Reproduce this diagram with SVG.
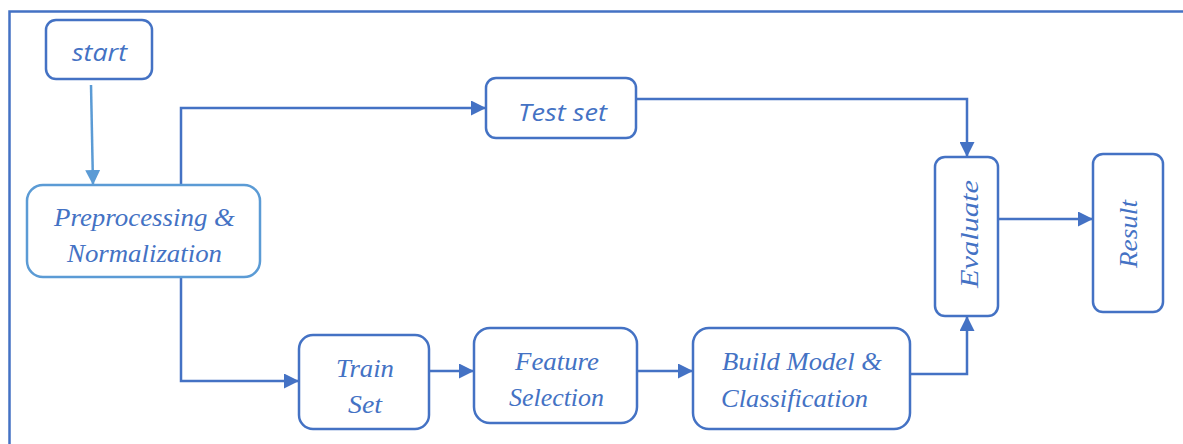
<svg xmlns="http://www.w3.org/2000/svg" width="1183" height="444" viewBox="0 0 1183 444">
<style>
.box{fill:#fff;stroke:#4472C4;stroke-width:2.5}
.lbox{fill:#fff;stroke:#5B9BD5;stroke-width:2.5}
.t{font-family:"Liberation Serif","Times New Roman",serif;font-style:italic;fill:#4472C4;font-size:25px}
.s{font-family:"Open Sans","Liberation Sans",sans-serif;font-style:italic;fill:#4472C4;font-size:23px}
.c{fill:none;stroke:#4472C4;stroke-width:2.5}
.lc{fill:none;stroke:#5B9BD5;stroke-width:2.5}
</style>
<defs>
<marker id="ah" viewBox="0 0 10 10" refX="10" refY="5" markerWidth="6" markerHeight="6" markerUnits="strokeWidth" orient="auto"><path d="M0,0 L10,5 L0,10 z" fill="#4472C4"/></marker>
<marker id="lah" viewBox="0 0 10 10" refX="10" refY="5" markerWidth="6" markerHeight="6" markerUnits="strokeWidth" orient="auto"><path d="M0,0 L10,5 L0,10 z" fill="#5B9BD5"/></marker>
</defs>
<g id="frame"><path d="M9.5,444 V11.5 H1183" fill="none" stroke="#4472C4" stroke-width="2.5"/></g>
<g id="connectors">
<path class="lc" d="M91,85 L93,185" marker-end="url(#lah)"/>
<path class="c" d="M181,185 V108 H486" marker-end="url(#ah)"/>
<path class="c" d="M636,99 H967 V157" marker-end="url(#ah)"/>
<path class="c" d="M181,277 V381 H299" marker-end="url(#ah)"/>
<path class="c" d="M429,371 H474" marker-end="url(#ah)"/>
<path class="c" d="M637,371 H693" marker-end="url(#ah)"/>
<path class="c" d="M910,374 H967 V316" marker-end="url(#ah)"/>
<path class="c" d="M998,219 H1093" marker-end="url(#ah)"/>
</g>
<g id="start"><rect class="box" x="46" y="20" width="106" height="59" rx="10"/><text class="s" x="72" y="61" textLength="55" lengthAdjust="spacingAndGlyphs">start</text></g>
<g id="preprocessing"><rect class="lbox" x="27" y="185" width="233" height="92" rx="16"/><text class="t" x="54" y="226" textLength="181" lengthAdjust="spacingAndGlyphs">Preprocessing &amp;</text><text class="t" x="67" y="262" textLength="155" lengthAdjust="spacingAndGlyphs">Normalization</text></g>
<g id="testset"><rect class="box" x="486" y="78" width="150" height="60" rx="10"/><text class="s" x="518" y="121" font-size="25" textLength="89" lengthAdjust="spacingAndGlyphs">Test set</text></g>
<g id="trainset"><rect class="box" x="299" y="335" width="130" height="94" rx="14"/><text class="t" x="336" y="377" textLength="58" lengthAdjust="spacingAndGlyphs">Train</text><text class="t" x="348" y="413" textLength="34" lengthAdjust="spacingAndGlyphs">Set</text></g>
<g id="feature"><rect class="box" x="474" y="328" width="163" height="95" rx="16"/><text class="t" x="515" y="370" textLength="84" lengthAdjust="spacingAndGlyphs">Feature</text><text class="t" x="509" y="406" textLength="95" lengthAdjust="spacingAndGlyphs">Selection</text></g>
<g id="build"><rect class="box" x="693" y="328" width="217" height="101" rx="16"/><text class="t" x="722" y="370" textLength="160" lengthAdjust="spacingAndGlyphs">Build Model &amp;</text><text class="t" x="721" y="407" textLength="147" lengthAdjust="spacingAndGlyphs">Classification</text></g>
<g id="evaluate"><rect class="box" x="935" y="157" width="63" height="159" rx="10"/><text class="t" transform="translate(978,288) rotate(-90)" x="0" y="0" font-size="30" textLength="108" lengthAdjust="spacingAndGlyphs">Evaluate</text></g>
<g id="result"><rect class="box" x="1093" y="154" width="70" height="158" rx="10"/><text class="t" transform="translate(1137,268) rotate(-90)" x="0" y="0" font-size="29" textLength="68" lengthAdjust="spacingAndGlyphs">Result</text></g>
</svg>
